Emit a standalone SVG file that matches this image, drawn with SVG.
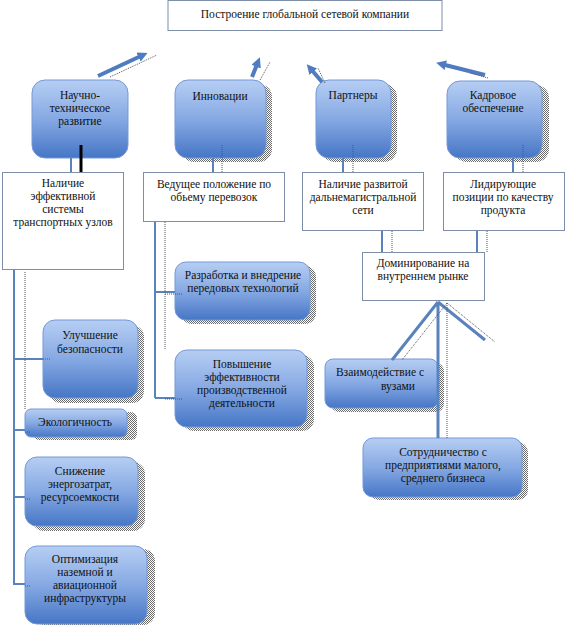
<svg xmlns="http://www.w3.org/2000/svg" width="567" height="627" viewBox="0 0 567 627">
<style>
text{font-family:"Times New Roman","Liberation Serif","DejaVu Serif",serif;font-size:11.5px;fill:#111;text-anchor:middle}
.wb{fill:#fff;stroke:#7f8ea8;stroke-width:1}
.bn{fill:url(#bg);stroke:#7499d6;stroke-width:1}
.sh{fill:url(#chk)}
.ln{stroke:#5a82bd;stroke-width:3;fill:none}
.dt{stroke:#555;stroke-width:1;stroke-dasharray:1 1;fill:none}
.ar{stroke:#4f7cc0;stroke-width:4;fill:none;marker-end:url(#ah)}
</style>
<defs>
<linearGradient id="bg" x1="0" y1="0" x2="0" y2="1">
<stop offset="0" stop-color="#b6cef3"/>
<stop offset="0.5" stop-color="#86a9e3"/>
<stop offset="1" stop-color="#4676c6"/>
</linearGradient>
<pattern id="chk" width="2" height="2" patternUnits="userSpaceOnUse">
<rect width="2" height="2" fill="#fff"/>
<rect width="1" height="1" fill="#6a6a6a"/>
<rect x="1" y="1" width="1" height="1" fill="#6a6a6a"/>
</pattern>
<marker id="ah" viewBox="0 0 10 10" refX="5" refY="5" markerWidth="10" markerHeight="10" markerUnits="userSpaceOnUse" orient="auto">
<path d="M0,0 L10,5 L0,10 z" fill="#4f7cc0"/>
</marker>
</defs>

<g id="title">
<rect class="wb" x="168" y="0.5" width="274" height="30"/>
<text x="305" y="18">Построение глобальной сетевой компании</text>
</g>

<g id="n-nauchno">
<rect class="bn" x="32" y="80" width="96" height="78" rx="13"/>
<text x="80" y="99">Научно-</text>
<text x="80" y="112">техническое</text>
<text x="80" y="125">развитие</text>
</g>
<g id="n-innovacii">
<rect class="sh" x="181" y="84" width="91" height="78" rx="13"/>
<rect class="bn" x="175" y="80" width="91" height="78" rx="13"/>
<text x="220" y="100">Инновации</text>
</g>
<g id="n-partnery">
<rect class="sh" x="322" y="84" width="75" height="78" rx="13"/>
<rect class="bn" x="316" y="80" width="75" height="78" rx="13"/>
<text x="353" y="99">Партнеры</text>
</g>
<g id="n-kadrovoe">
<rect class="sh" x="454" y="85" width="95" height="77" rx="13"/>
<rect class="bn" x="447" y="81" width="95" height="77" rx="13"/>
<text x="493" y="99">Кадровое</text>
<text x="493" y="112">обеспечение</text>
</g>

<g id="w-nalichie-sistemy">
<rect class="wb" x="2.5" y="172.5" width="121" height="97"/>
<text x="63" y="187">Наличие</text>
<text x="63" y="200">эффективной</text>
<text x="63" y="213">системы</text>
<text x="63" y="226">транспортных узлов</text>
</g>
<g id="w-vedushchee">
<rect class="wb" x="143.5" y="172.5" width="141" height="49"/>
<text x="214" y="188">Ведущее положение по</text>
<text x="214" y="201">обьему перевозок</text>
</g>
<g id="w-nalichie-seti">
<rect class="wb" x="302.5" y="172.5" width="121" height="58"/>
<text x="363" y="188">Наличие развитой</text>
<text x="363" y="201">дальнемагистральной</text>
<text x="363" y="214">сети</text>
</g>
<g id="w-lidiruyushchie">
<rect class="wb" x="443.5" y="172.5" width="121" height="58"/>
<text x="503" y="188">Лидирующие</text>
<text x="503" y="201">позиции по качеству</text>
<text x="503" y="214">продукта</text>
</g>
<g id="w-dominirovanie">
<rect class="wb" x="362.5" y="252.5" width="122" height="48"/>
<text x="423" y="267">Доминирование на</text>
<text x="423" y="280">внутреннем рынке</text>
</g>

<g id="l-uluchshenie">
<rect class="sh" x="49" y="325" width="95" height="78" rx="12"/>
<rect class="bn" x="43" y="320" width="95" height="78" rx="12"/>
<text x="90" y="339">Улучшение</text>
<text x="90" y="353">безопасности</text>
</g>
<g id="l-ekologichnost">
<rect class="sh" x="33" y="412" width="104" height="28" rx="6"/>
<rect class="bn" x="25" y="409" width="102" height="28" rx="6"/>
<text x="75" y="426">Экологичность</text>
</g>
<g id="l-snizhenie">
<rect class="sh" x="32" y="462" width="113" height="69" rx="12"/>
<rect class="bn" x="25" y="457" width="113" height="69" rx="12"/>
<text x="80" y="475">Снижение</text>
<text x="80" y="488">энергозатрат,</text>
<text x="80" y="501">ресурсоемкости</text>
</g>
<g id="l-optimizaciya">
<rect class="sh" x="33" y="549" width="122" height="76" rx="12"/>
<rect class="bn" x="25" y="546" width="122" height="78" rx="12"/>
<text x="85" y="563">Оптимизация</text>
<text x="85" y="576">наземной и</text>
<text x="85" y="589">авиационной</text>
<text x="85" y="602">инфраструктуры</text>
</g>

<g id="m-razrabotka">
<rect class="sh" x="181" y="266" width="135" height="58" rx="11"/>
<rect class="bn" x="175" y="262" width="135" height="58" rx="11"/>
<text x="243" y="279">Разработка и внедрение</text>
<text x="243" y="292">передовых технологий</text>
</g>
<g id="m-povyshenie">
<rect class="sh" x="182" y="355" width="132" height="76" rx="12"/>
<rect class="bn" x="175" y="350" width="132" height="77" rx="12"/>
<text x="242" y="368">Повышение</text>
<text x="242" y="381">эффективности</text>
<text x="242" y="394">производственной</text>
<text x="242" y="407">деятельности</text>
</g>

<g id="r-vzaimodeystvie">
<rect class="sh" x="331" y="363" width="113" height="49" rx="8"/>
<rect class="bn" x="325" y="359" width="113" height="49" rx="8"/>
<text x="380" y="376">Взаимодействие с</text>
<text x="398" y="390">вузами</text>
</g>
<g id="r-sotrudnichestvo">
<rect class="sh" x="369" y="442" width="159" height="58" rx="10"/>
<rect class="bn" x="363" y="438" width="159" height="59" rx="10"/>
<text x="443" y="456">Сотрудничество с</text>
<text x="443" y="469">предприятиями малого,</text>
<text x="443" y="482">среднего бизнеса</text>
</g>

<g id="connectors">
<line class="ar" x1="98" y1="76" x2="143" y2="55"/>
<line class="dt" x1="110" y1="77" x2="157" y2="55"/>
<line class="ar" x1="252" y1="77" x2="258" y2="62"/>
<line class="dt" x1="260" y1="80" x2="270" y2="62"/>
<line class="ar" x1="322" y1="82" x2="310" y2="68"/>
<line class="dt" x1="325" y1="83" x2="318" y2="68"/>
<line class="ar" x1="485" y1="75" x2="441" y2="64"/>
<line class="dt" x1="488" y1="78" x2="470" y2="73"/>

<line x1="71" y1="158" x2="71" y2="172" stroke="#5a82bd" stroke-width="2"/>
<line x1="81" y1="145" x2="81" y2="172" stroke="#000" stroke-width="3"/>
<line x1="213" y1="158" x2="213" y2="172" stroke="#5a82bd" stroke-width="2"/>
<line class="dt" x1="222" y1="145" x2="222" y2="172"/>
<line x1="343" y1="158" x2="343" y2="172" stroke="#5a82bd" stroke-width="2"/>
<line class="dt" x1="353" y1="145" x2="353" y2="172"/>
<line x1="513" y1="158" x2="513" y2="172" stroke="#5a82bd" stroke-width="2"/>
<line class="dt" x1="523" y1="145" x2="523" y2="172"/>

<line x1="382" y1="231" x2="382" y2="252" stroke="#5a82bd" stroke-width="2"/>
<line class="dt" x1="392" y1="231" x2="392" y2="252"/>
<line x1="477" y1="231" x2="477" y2="252" stroke="#5a82bd" stroke-width="2"/>
<line class="dt" x1="487" y1="231" x2="487" y2="252"/>

<path d="M14,270 V585 M14,359 H43 M14,430 H25 M14,497 H25 M14,584 H25" stroke="#5a82bd" stroke-width="2" fill="none"/>
<path class="dt" d="M25,272 V409 M43,359 H50 M25,432 H30 M25,499 H30 M25,586 H30"/>

<path d="M155,222 V398 M155,292 H175 M155,398 H175" stroke="#5a82bd" stroke-width="2" fill="none"/>
<path class="dt" d="M165,222 V350 M165,294 H182 M165,399 H182"/>

<path class="ln" d="M438,302 L392,360 M438,302 V438 M438,302 L485,340"/>
<path class="dt" d="M447,303 L402,360 M447,303 V438 M447,303 L495,342"/>
</g>
</svg>
